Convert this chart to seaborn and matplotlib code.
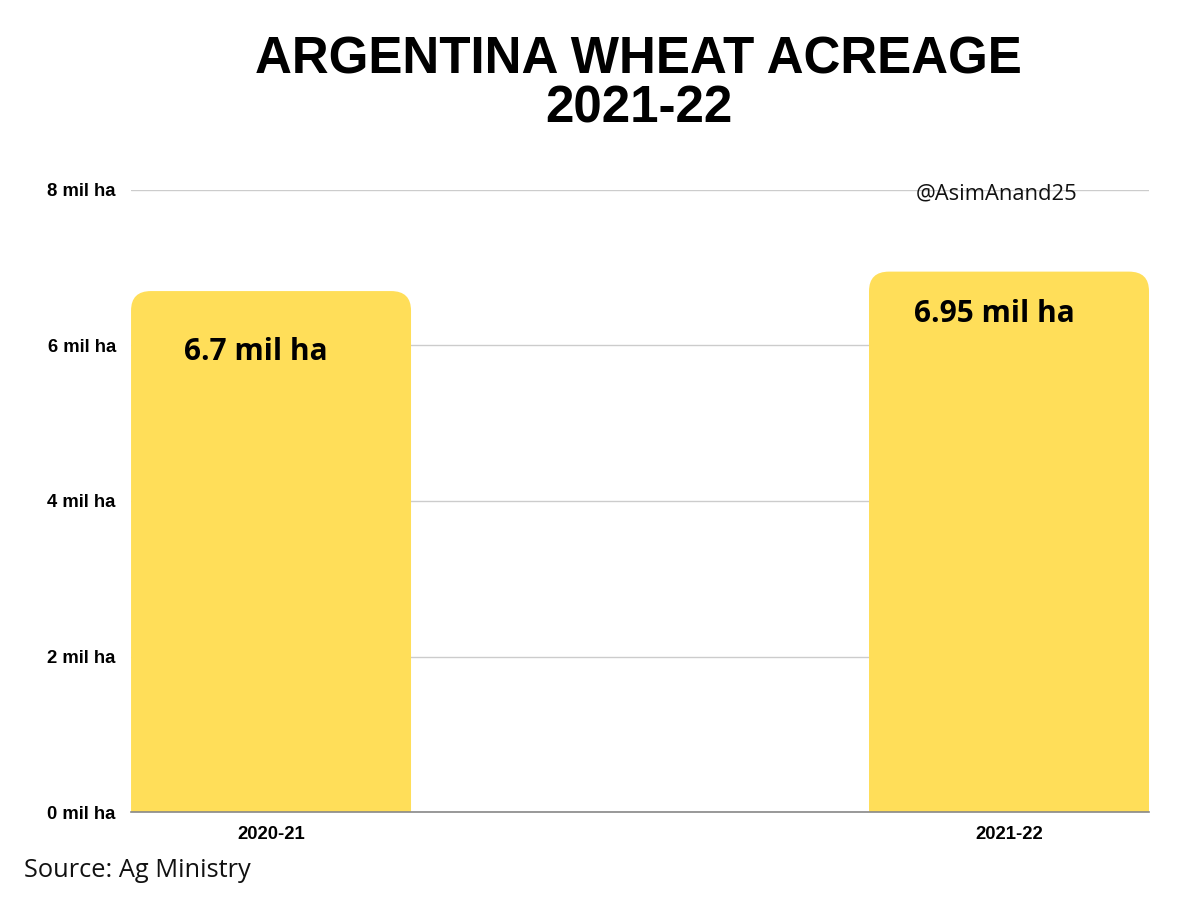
import numpy as np
import pandas as pd
import matplotlib
matplotlib.use("Agg")
import matplotlib.pyplot as plt
import seaborn as sns
from matplotlib.patches import FancyBboxPatch

# data
seasons = ["2020-21", "2021-22"]
acreage = [6.7, 6.95]
bar_labels = ["6.7 mil ha", "6.95 mil ha"]
y_ticks = [0, 2, 4, 6, 8]
y_tick_labels = ["0 mil ha", "2 mil ha", "4 mil ha", "6 mil ha", "8 mil ha"]

BAR_COLOR = "#FFDE59"

df = pd.DataFrame({"Season": seasons, "Acreage": acreage})

sns.set_style("white")
plt.rcParams["text.color"] = "black"
plt.rcParams["xtick.color"] = "black"
plt.rcParams["ytick.color"] = "black"

fig = plt.figure(figsize=(12, 9.09), dpi=100)
ax = fig.add_axes([0.1092, 0.1067, 0.8483, 0.6843])

bar_w = 0.3794
sns.barplot(data=df, x="Season", y="Acreage", color=BAR_COLOR,
            width=bar_w, saturation=1, ax=ax, zorder=2)

ax.set_xlim(-bar_w / 2, 1 + bar_w / 2)
ax.set_ylim(0, 8)

# swap plain bars for rounded-top ones (bottom corners hidden below y=0)
rx = 0.027
aspect = 9.3
for p in list(ax.patches):
    x0, w, h = p.get_x(), p.get_width(), p.get_height()
    p.remove()
    rb = FancyBboxPatch((x0, -1), w, h + 1,
                        boxstyle=f"round,pad=0,rounding_size={rx}",
                        mutation_aspect=aspect, facecolor=BAR_COLOR,
                        edgecolor="none", zorder=2, clip_on=True)
    ax.add_patch(rb)

# labels inside the bars
label_dx = [-0.02, -0.02]
label_dy = [-0.78, -0.55]
for i, (v, txt) in enumerate(zip(acreage, bar_labels)):
    ax.text(i + label_dx[i], v + label_dy[i], txt, ha="center", va="center",
            fontsize=21.5, fontweight="bold", family="Open Sans", color="black",
            zorder=3)

ax.set_yticks(y_ticks)
ax.set_yticklabels(y_tick_labels, family="Liberation Sans", fontweight="bold",
                   fontsize=13.3, color="black")
ax.tick_params(axis="y", length=0, pad=11)
ax.tick_params(axis="x", length=0, pad=10)
for lab in ax.get_xticklabels():
    lab.set_family("Liberation Sans")
    lab.set_fontweight("bold")
    lab.set_fontsize(13.3)
    lab.set_color("black")
ax.set_xlabel("")
ax.set_ylabel("")

ax.grid(axis="y", color="#cccccc", linewidth=1, zorder=0)
ax.set_axisbelow(True)
for s in ["top", "right", "left"]:
    ax.spines[s].set_visible(False)
ax.spines["bottom"].set_color("#888888")
ax.spines["bottom"].set_linewidth(1.2)
ax.spines["bottom"].set_zorder(4)

fig.text(0.532, 0.907, "ARGENTINA WHEAT ACREAGE\n2021-22", ha="center",
         va="center", fontsize=36.8, fontweight="bold", family="Liberation Sans",
         linespacing=1.0, color="black")
fig.text(0.8305, 0.787, "@AsimAnand25", ha="center", va="center",
         fontsize=15.8, family="Open Sans", color="#111111")
fig.text(0.02, 0.042, "Source: Ag Ministry", ha="left", va="center",
         fontsize=18.3, family="Open Sans", color="#111111")

fig.savefig("out.png", dpi=100, facecolor="white")
